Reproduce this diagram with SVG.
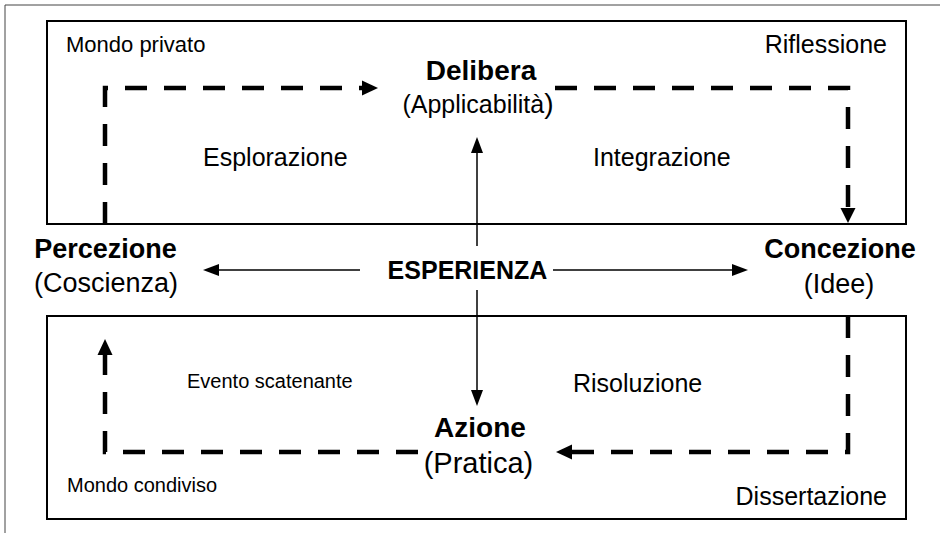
<svg xmlns="http://www.w3.org/2000/svg" width="940" height="533" viewBox="0 0 940 533">
<style>
text{font-family:"Liberation Sans",Arial,sans-serif;fill:#000}
.b{font-weight:bold}
.box{fill:none;stroke:#000;stroke-width:2}
.dash{fill:none;stroke:#000;stroke-width:4.5;stroke-dasharray:22 17;stroke-linejoin:miter}
.thin{fill:none;stroke:#000;stroke-width:1.5}
.head{fill:#000;stroke:none}
</style>
<rect width="940" height="533" fill="#fff"/>
<g id="frame">
<path d="M5,533 V5 H940" fill="none" stroke="#444" stroke-width="1"/>
</g>
<g id="mondo-privato">
<rect class="box" x="47" y="21" width="859" height="203"/>
<text x="66" y="52" font-size="22">Mondo privato</text>
<text x="887" y="53" font-size="25" text-anchor="end">Riflessione</text>
<text x="203" y="166" font-size="25">Esplorazione</text>
<text x="593" y="166" font-size="25">Integrazione</text>
</g>
<g id="mondo-condiviso">
<rect class="box" x="47" y="316" width="859" height="203"/>
<text x="187" y="388" font-size="20">Evento scatenante</text>
<text x="573" y="392" font-size="25">Risoluzione</text>
<text x="67" y="492" font-size="20">Mondo condiviso</text>
<text x="887" y="505" font-size="25" text-anchor="end">Dissertazione</text>
</g>
<g id="connectors">
<path class="dash" d="M105,224 V88 H362"/>
<polygon class="head" points="378,88 362,80.5 362,95.5"/>
<path class="dash" d="M555,88 H848 V208"/>
<polygon class="head" points="848,223 840.5,208 855.5,208"/>
<path class="dash" d="M848,316 V452 H572"/>
<polygon class="head" points="556,452 572,444.5 572,459.5"/>
<path class="dash" d="M418,452 H105 V355"/>
<polygon class="head" points="105,339 97.5,355 112.5,355"/>
<line class="thin" x1="477" y1="246" x2="477" y2="152"/>
<polygon class="head" points="477,137 471,153 483,153"/>
<line class="thin" x1="477" y1="290" x2="477" y2="391"/>
<polygon class="head" points="477,406 471,390 483,390"/>
<line class="thin" x1="360" y1="270" x2="218" y2="270"/>
<polygon class="head" points="203,270 219,264 219,276"/>
<line class="thin" x1="553" y1="270" x2="733" y2="270"/>
<polygon class="head" points="748,270 732,264 732,276"/>
</g>
<g id="delibera">
<text x="481" y="80" font-size="28" class="b" text-anchor="middle">Delibera</text>
<text x="478" y="113" font-size="25" text-anchor="middle">(Applicabilità<tspan font-size="28">)</tspan></text>
</g>
<g id="percezione">
<text x="105.5" y="258" font-size="27" class="b" text-anchor="middle">Percezione</text>
<text x="106" y="292" font-size="27" text-anchor="middle">(Coscienza)</text>
</g>
<g id="esperienza">
<text x="467.5" y="279" font-size="25" class="b" text-anchor="middle">ESPERIENZA</text>
</g>
<g id="concezione">
<text x="840" y="258" font-size="27" class="b" text-anchor="middle">Concezione</text>
<text x="839" y="293" font-size="27" text-anchor="middle">(Idee)</text>
</g>
<g id="azione">
<text x="480" y="437" font-size="28" class="b" text-anchor="middle">Azione</text>
<text x="478.5" y="473" font-size="29" text-anchor="middle">(Pratica)</text>
</g>
</svg>
